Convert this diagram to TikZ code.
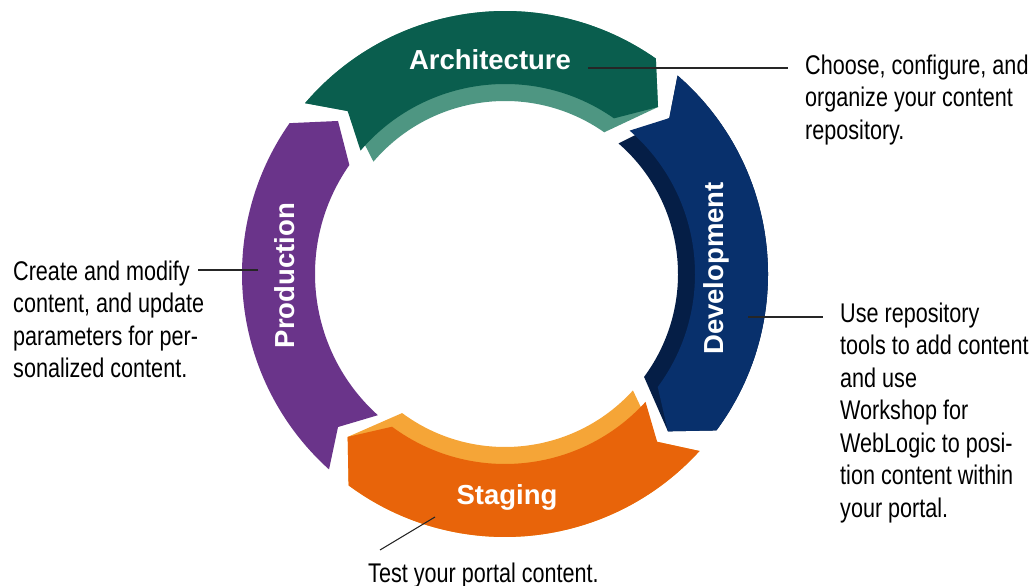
\documentclass[tikz,border=0pt]{standalone}
\usepackage{fontspec}
\setmainfont{Liberation Sans}
\newfontfamily\narrowfont[FakeStretch=0.8]{Liberation Sans}
\usetikzlibrary{calc}
\definecolor{archFace}{RGB}{10,94,78}
\definecolor{archBev}{RGB}{78,150,130}
\definecolor{devFace}{RGB}{8,48,108}
\definecolor{devBev}{RGB}{5,30,70}
\definecolor{stgFace}{RGB}{232,100,10}
\definecolor{stgBev}{RGB}{245,165,55}
\definecolor{prodFace}{RGB}{106,52,138}
% chevron ring segment: tail angle, head angle, inner radius
\newcommand\chevp[3]{(#1:263) arc[start angle=#1,end angle=#2,radius=263pt] -- ({#2-7.5}:226.5) -- (#2:#3) arc[start angle=#2,end angle=#1,radius=#3pt] -- ({#1-5.5}:226.5) -- cycle}
\begin{document}
\begin{tikzpicture}[x=1pt,y=1pt,
  lbl/.style={text=white, font=\bfseries\fontsize{27.5}{30}\selectfont, inner sep=0pt, anchor=base},
  desc/.style={font=\narrowfont\fontsize{27}{32.5}\selectfont, align=left, inner sep=0pt, anchor=north west, text=black},
  leader/.style={draw=black!85, line width=1.1pt}]
\useasboundingbox (0,0) rectangle (1033,586);
\begin{scope}[shift={(505,312)}]
  \fill[archBev]  \chevp{139.5}{55}{173};
  \fill[archFace] \chevp{139.5}{55}{190};
  \fill[devBev]   \chevp{49}{-36.5}{173};
  \fill[devFace]  \chevp{49}{-36.5}{190};
  \fill[stgBev]   \chevp{-42.3}{-126.5}{173};
  \fill[stgFace]  \chevp{-42.3}{-126.5}{190};
  \fill[prodFace] \chevp{-132}{-215}{190};
\end{scope}
% segment labels
\node[lbl] (arch) at (490,516) {Architecture};
\node[lbl, rotate=90] (dev) at (723,317.5) {Development};
\node[lbl, rotate=90] (prod) at (294,310.5) {Production};
\node[lbl] (stg) at (507,81) {Staging};
% descriptions
\node[desc] (archD) at (805,531.7) {Choose, configure, and\\organize your content\\repository.};
\node[desc] (devD) at (840,283.7) {Use repository\\tools to add content\\and use\\Workshop for\\WebLogic to posi-\\tion content within\\your portal.};
\node[desc] (prodD) at (13,325.7) {Create and modify\\content, and update\\parameters for per-\\sonalized content.};
\node[desc] (stgD) at (368,23.7) {Test your portal content.};
% leaders
\coordinate (archA) at (588,518);
\coordinate (archB) at (788,518);
\coordinate (devA) at (748,269);
\coordinate (devB) at (823,269);
\coordinate (prodA) at (258,316);
\coordinate (prodB) at (198,316);
\coordinate (stgA) at (435,69);
\coordinate (stgB) at (380,36);
\draw[leader] (archA) -- (archB);
\draw[leader] (devA) -- (devB);
\draw[leader] (prodA) -- (prodB);
\draw[leader] (stgA) -- (stgB);
\end{tikzpicture}
\end{document}
